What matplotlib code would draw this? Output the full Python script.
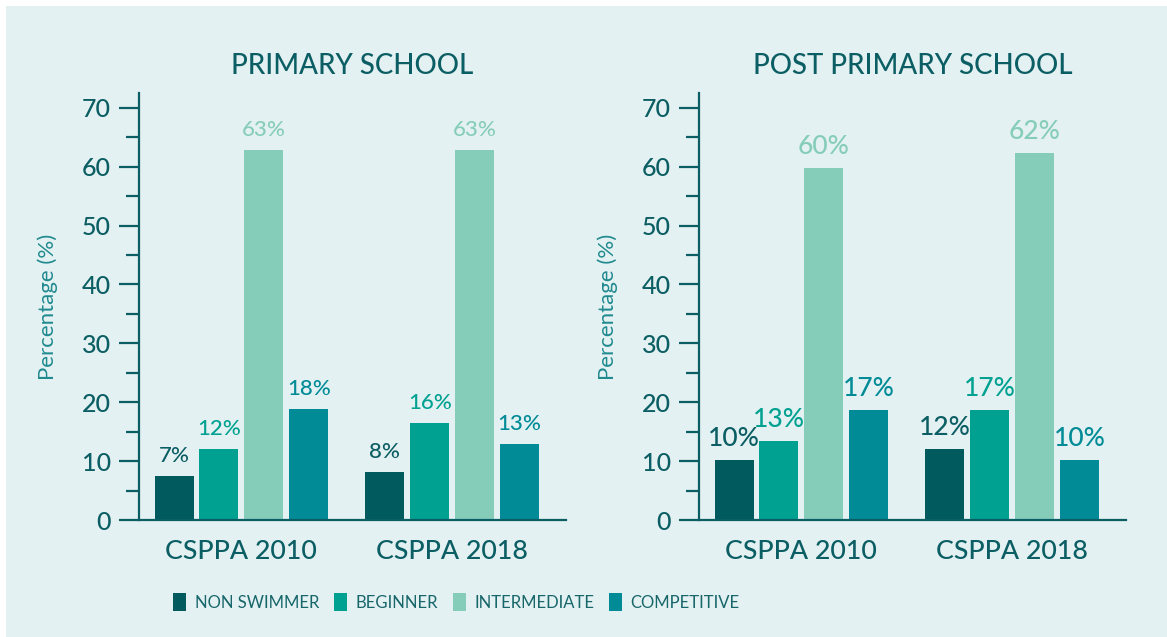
import matplotlib
matplotlib.use('Agg')
import matplotlib.pyplot as plt
from matplotlib.patches import Patch, Rectangle
from matplotlib.ticker import MultipleLocator
import numpy as np

# ========================
# Data
# ========================
surveys = ['CSPPA 2010', 'CSPPA 2018']
levels = ['NON SWIMMER', 'BEGINNER', 'INTERMEDIATE', 'COMPETITIVE']

primary_2010 = [7.5, 12.1, 62.9, 18.9]
primary_2018 = [8.2, 16.5, 62.9, 12.9]
primary_labels_2010 = ['7%', '12%', '63%', '18%']
primary_labels_2018 = ['8%', '16%', '63%', '13%']

post_2010 = [10.2, 13.4, 59.8, 18.7]
post_2018 = [12.1, 18.7, 62.3, 10.2]
post_labels_2010 = ['10%', '13%', '60%', '17%']
post_labels_2018 = ['12%', '17%', '62%', '10%']

# ========================
# Style
# ========================
BG = '#e4f1f2'
DARK = '#0b5e63'
bar_colors = ['#005a5e', '#00a191', '#86cdb9', '#008b97']
label_colors = ['#0b5e63', '#00a191', '#86cdb9', '#008b97']
FONT = 'Lato'

plt.rcParams['font.family'] = [FONT, 'DejaVu Sans']

W, H = 1167, 637
fig = plt.figure(figsize=(W / 100, H / 100), dpi=100)
fig.patch.set_facecolor('white')
fig.patches.append(Rectangle((6 / W, 0), 1, 1 - 6 / H, transform=fig.transFigure,
                             facecolor=BG, edgecolor='none', zorder=-10))

step = 0.213
width = 0.185


def draw_panel(ax, title, vals_a, vals_b, labs_a, labs_b, label_size):
    ax.set_facecolor('none')
    x = np.arange(len(surveys))
    for i in range(len(levels)):
        heights = [vals_a[i], vals_b[i]]
        labs = [labs_a[i], labs_b[i]]
        xs = x + (i - 1.5) * step
        ax.bar(xs, heights, width=width, color=bar_colors[i], zorder=2)
        for xx, hh, lab in zip(xs, heights, labs):
            ax.annotate(lab, xy=(xx, hh), xytext=(0, 9.8), textcoords='offset points',
                        ha='center', va='baseline', fontsize=label_size,
                        color=label_colors[i], fontweight='medium')
    ax.set_xlim(-0.486, 1.54)
    ax.set_ylim(0, 72.5)
    ax.set_xticks(x)
    ax.set_xticklabels(surveys, fontsize=19.3, color=DARK, fontweight='medium')
    ax.tick_params(axis='x', length=0, pad=14)
    ax.yaxis.set_major_locator(MultipleLocator(10))
    ax.yaxis.set_minor_locator(MultipleLocator(5))
    ax.tick_params(axis='y', which='major', length=14.4, width=1.6, color=DARK,
                   labelsize=18, labelcolor=DARK, pad=6)
    ax.tick_params(axis='y', which='minor', length=9.4, width=1.6, color=DARK)
    for t in ax.get_yticklabels():
        t.set_fontweight('medium')
    for s in ['top', 'right']:
        ax.spines[s].set_visible(False)
    for s in ['left', 'bottom']:
        ax.spines[s].set_color(DARK)
        ax.spines[s].set_linewidth(1.6)
    ax.set_ylabel('Percentage (%)', fontsize=16, color='#1f8a8f', va='center',
                  fontweight='normal')
    ax.yaxis.set_label_coords(-91 / 427, 0.5)
    ax.set_title(title, fontsize=19.9, color=DARK, pad=14, fontweight='medium')


ax1 = fig.add_axes([139 / W, 117 / H, 427 / W, 427 / H])
ax2 = fig.add_axes([699 / W, 117 / H, 427 / W, 427 / H])

draw_panel(ax1, 'PRIMARY SCHOOL', primary_2010, primary_2018,
           primary_labels_2010, primary_labels_2018, 16)
draw_panel(ax2, 'POST PRIMARY SCHOOL', post_2010, post_2018,
           post_labels_2010, post_labels_2018, 19)

handles = [Patch(facecolor=c, edgecolor='none') for c in bar_colors]
leg = fig.legend(handles, levels, loc='center', bbox_to_anchor=(456.5 / W, 35 / H),
                 ncol=4, frameon=False, handlelength=0.78, handleheight=1.2,
                 handletextpad=0.5, columnspacing=0.9, labelcolor='#16666a',
                 prop={'family': FONT, 'size': 12})

fig.savefig('out.png', dpi=100, facecolor=fig.get_facecolor())
